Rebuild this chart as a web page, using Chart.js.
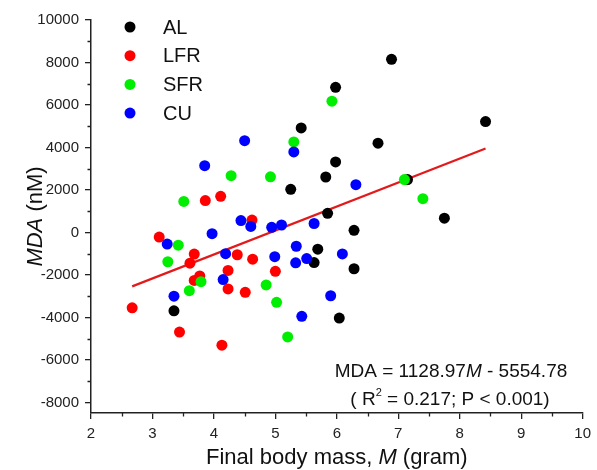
<!DOCTYPE html>
<html>
<head>
<meta charset="utf-8">
<script src="https://cdn.jsdelivr.net/npm/chart.js@4.4.0/dist/chart.umd.min.js"></script>
<style>
  html, body { margin: 0; padding: 0; background: #fff; }
</style>
</head>
<body>
<canvas id="mdaChart" width="597" height="470"></canvas>
<script>
// Groups (final body mass M in gram, MDA in nM)
const groupNames = ['AL', 'LFR', 'SFR', 'CU'];
const groupColors = ['#000000', '#ff0000', '#00ee00', '#0000ff'];

const alX = [6.89, 5.98, 8.42, 5.42, 6.67, 5.98, 5.82, 5.25, 7.15, 5.85, 7.75, 6.28, 5.69, 5.63, 6.28, 3.35, 6.04];
const alY = [8150, 6830, 5220, 4920, 4200, 3320, 2610, 2030, 2490, 900, 670, 100, -790, -1420, -1710, -3690, -4030];

const lfrX = [3.86, 4.11, 4.62, 3.11, 3.68, 3.61, 4.38, 4.63, 4.23, 5.00, 3.77, 3.68, 4.23, 4.51, 2.67, 3.44, 4.13];
const lfrY = [1500, 1700, 580, -220, -1020, -1450, -1050, -1260, -1790, -1830, -2050, -2260, -2660, -2820, -3550, -4690, -5310];

const sfrX = [5.92, 5.30, 4.28, 4.92, 3.51, 7.10, 7.40, 3.42, 3.25, 3.79, 3.60, 4.85, 5.02, 5.20];
const sfrY = [6180, 4260, 2670, 2620, 1460, 2490, 1590, -600, -1380, -2320, -2740, -2470, -3290, -4920];

const cuX = [3.85, 4.50, 5.30, 6.31, 4.44, 4.60, 4.94, 5.10, 5.63, 3.97, 3.24, 4.19, 4.99, 5.34, 5.51, 5.33, 6.09, 4.15, 3.35, 5.90, 5.43];
const cuY = [3140, 4320, 3790, 2250, 560, 280, 240, 350, 420, -60, -550, -1000, -1140, -650, -1230, -1430, -1010, -2220, -3000, -2980, -3950];

// Fit reported on the figure
const fitSlope = 1128.97;
const fitIntercept = -5554.78;

// Axis ticks (labelled ones) and minor tick positions
const xTicks = [2, 3, 4, 5, 6, 7, 8, 9, 10];
const xMinor = [2.5, 3.5, 4.5, 5.5, 6.5, 7.5, 8.5, 9.5];
const yTicks = [-8000, -6000, -4000, -2000, 0, 2000, 4000, 6000, 8000, 10000];
const yMinor = [-7000, -5000, -3000, -1000, 1000, 3000, 5000, 7000, 9000];

const toPoints = (xs, ys) => xs.map((x, i) => ({ x: x, y: ys[i] }));
const groupData = [toPoints(alX, alY), toPoints(lfrX, lfrY), toPoints(sfrX, sfrY), toPoints(cuX, cuY)];

const allX = alX.concat(lfrX, sfrX, cuX);
const xLo = Math.min.apply(null, allX);
const xHi = Math.max.apply(null, allX);
const fitLine = [
  { x: xLo, y: fitSlope * xLo + fitIntercept },
  { x: xHi, y: fitSlope * xHi + fitIntercept }
];

const FONT = '"Liberation Sans", Arial, Helvetica, sans-serif';

// draw text made of pieces, some italic, centered on cx
function drawRuns(c, runs, cx, baseY, size) {
  let total = 0;
  const widths = runs.map(r => {
    c.font = (r[1] ? 'italic ' : '') + size + 'px ' + FONT;
    const w = c.measureText(r[0]).width;
    total += w;
    return w;
  });
  let x = cx - total / 2;
  runs.forEach((r, i) => {
    c.font = (r[1] ? 'italic ' : '') + size + 'px ' + FONT;
    c.fillText(r[0], x, baseY);
    x += widths[i];
  });
}

const sortTicks = arr => arr.slice().sort((a, b) => a - b).map(v => ({ value: v }));

const textPlugin = {
  id: 'textPlugin',
  afterDraw(chart) {
    const c = chart.ctx;
    const area = chart.chartArea;
    const sx = chart.scales.x, sy = chart.scales.y;
    c.save();

    // short minor ticks (major ones come from the scales)
    c.strokeStyle = '#222';
    c.lineWidth = 1.3;
    c.beginPath();
    xMinor.forEach(v => {
      const px = Math.round(sx.getPixelForValue(v)) + 0.5;
      c.moveTo(px, area.bottom);
      c.lineTo(px, area.bottom + 3.5);
    });
    yMinor.forEach(v => {
      const py = Math.round(sy.getPixelForValue(v)) + 0.5;
      c.moveTo(area.left, py);
      c.lineTo(area.left - 3.5, py);
    });
    c.stroke();

    c.fillStyle = '#111';
    c.textAlign = 'left';
    c.textBaseline = 'alphabetic';

    // x axis title
    drawRuns(c, [['Final body mass, ', false], ['M', true], [' (gram)', false]], (area.left + area.right) / 2, 464, 22);

    // y axis title
    c.save();
    c.translate(34, (area.top + area.bottom) / 2);
    c.rotate(-Math.PI / 2);
    drawRuns(c, [['MDA', true], [' (nM)', false]], 0, 8, 22);
    c.restore();

    // legend in the upper left
    groupNames.forEach((name, i) => {
      const y = 27 + i * 28.7;
      c.beginPath();
      c.arc(130, y, 5.5, 0, Math.PI * 2);
      c.fillStyle = groupColors[i];
      c.fill();
      c.fillStyle = '#111';
      c.font = '20px ' + FONT;
      c.textBaseline = 'middle';
      c.fillText(name, 163, y + 1);
    });
    c.textBaseline = 'alphabetic';

    // regression equation
    drawRuns(c, [['MDA = 1128.97', false], ['M', true], [' - 5554.78', false]], 451, 377, 19);
    c.font = '19px ' + FONT;
    const p1 = '( R', p2 = '2', p3 = ' = 0.217; P < 0.001)';
    const w1 = c.measureText(p1).width;
    c.font = '11px ' + FONT;
    const w2 = c.measureText(p2).width;
    c.font = '19px ' + FONT;
    const w3 = c.measureText(p3).width;
    let x = 450 - (w1 + w2 + w3) / 2;
    c.fillText(p1, x, 405);
    c.font = '11px ' + FONT;
    c.fillText(p2, x + w1, 396);
    c.font = '19px ' + FONT;
    c.fillText(p3, x + w1 + w2, 405);
    c.restore();
  }
};

const datasets = groupNames.map((name, i) => ({
  label: name,
  data: groupData[i],
  showLine: false,
  backgroundColor: groupColors[i],
  borderColor: groupColors[i],
  borderWidth: 0,
  pointRadius: 5.5,
  pointHoverRadius: 5.5,
  order: 4 - i
}));

datasets.push({
  label: 'fit',
  data: fitLine,
  showLine: true,
  borderColor: '#e31a1c',
  borderWidth: 2.2,
  pointRadius: 0,
  fill: false,
  order: 10
});

const ctx = document.getElementById('mdaChart').getContext('2d');
const mdaChart = new Chart(ctx, {
  type: 'scatter',
  data: { datasets: datasets },
  options: {
    responsive: false,
    animation: false,
    layout: { padding: { top: 20, right: 10, left: 0, bottom: 0 } },
    plugins: {
      legend: { display: false },
      tooltip: { enabled: false }
    },
    scales: {
      x: {
        type: 'linear',
        min: 2,
        max: 10,
        afterFit: s => { s.height = 57; },
        afterBuildTicks: s => { s.ticks = sortTicks(xTicks.concat(xMinor)); },
        border: { color: '#222', width: 1.5 },
        grid: {
          drawOnChartArea: false, tickLength: 6, lineWidth: 1.3,
          tickColor: c => xTicks.includes(c.tick && c.tick.value) ? '#222' : 'rgba(0,0,0,0)'
        },
        ticks: {
          autoSkip: false,
          maxRotation: 0,
          padding: 6,
          color: '#222',
          font: { family: FONT, size: 15 },
          callback: v => xTicks.includes(v) ? String(v) : ''
        }
      },
      y: {
        type: 'linear',
        min: -8500,
        max: 10000,
        afterFit: s => { s.width = 91; },
        afterBuildTicks: s => { s.ticks = sortTicks(yTicks.concat(yMinor)); },
        border: { color: '#222', width: 1.5 },
        grid: {
          drawOnChartArea: false, tickLength: 6, lineWidth: 1.3,
          tickColor: c => yTicks.includes(c.tick && c.tick.value) ? '#222' : 'rgba(0,0,0,0)'
        },
        ticks: {
          autoSkip: false,
          padding: 6,
          color: '#222',
          font: { family: FONT, size: 15 },
          callback: v => yTicks.includes(v) ? String(v) : ''
        }
      }
    }
  },
  plugins: [textPlugin]
});
</script>
</body>
</html>
